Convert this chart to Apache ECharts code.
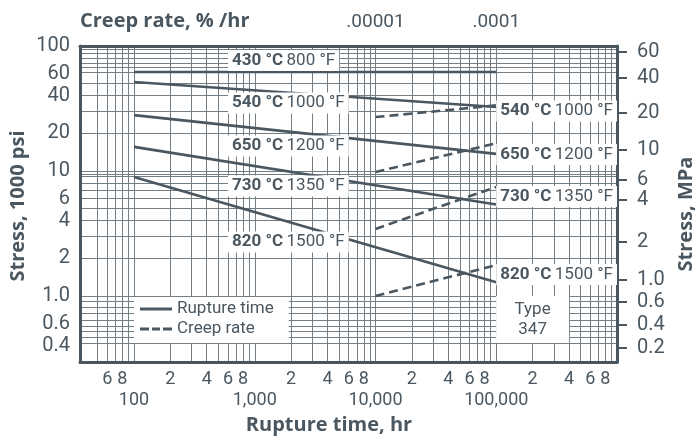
<!DOCTYPE html>
<html>
<head>
<meta charset="utf-8">
<script src="https://cdn.jsdelivr.net/npm/echarts@6/dist/echarts.min.js"></script>
<style>
  html, body { margin: 0; padding: 0; background: #ffffff; }
  #chart { width: 696px; height: 438px; }
</style>
</head>
<body>
<div id="chart"></div>
<script>
// ---- Data: Type 347 stainless, stress vs. rupture time and creep rate ----
// Solid lines: stress (1000 psi) at 100 h and 100,000 h rupture time
const ruptureHours = [100, 100000];
const rupture430 = [62, 62];
const rupture540 = [51.5, 32.5];
const rupture650 = [28, 13.7];
const rupture730 = [15.6, 5.4];
const rupture820 = [8.95, 1.29];

// Dashed lines: stress (1000 psi) at creep rates of 0.00001 and 0.0001 %/hr
const creepRates = [0.00001, 0.0001];
const creep540 = [27, 33.5];
const creep650 = [9.8, 16.7];
const creep730 = [3.44, 7.45];
const creep820 = [1.0, 1.77];

// Temperature captions
const tempC = ['430 °C', '540 °C', '650 °C', '730 °C', '820 °C'];
const tempF = ['800 °F', '1000 °F', '1200 °F', '1350 °F', '1500 °F'];

// Axis ticks
const hourDigitTicks = [60, 80, 200, 400, 600, 800, 2000, 4000, 6000, 8000,
  20000, 40000, 60000, 80000, 200000, 400000, 600000, 800000];
const hourDecadeTicks = [100, 1000, 10000, 100000];
const hourDecadeLabels = ['100', '1,000', '10,000', '100,000'];
const creepTicks = [0.00001, 0.0001];
const creepTickLabels = ['.00001', '.0001'];
const psiTicks = [100, 60, 40, 20, 10, 6, 4, 2, 1, 0.6, 0.4];
const psiTickLabels = ['100', '60', '40', '20', '10', '6', '4', '2', '1.0', '0.6', '0.4'];
// MPa scale labels and the psi-scale stress each one sits at
const mpaTickLabels = ['60', '40', '20', '10', '6', '4', '2', '1.0', '0.6', '0.4', '0.2'];
const mpaTickAtPsi = [89.5, 55.5, 29.1, 14.7, 8.47, 5.86, 2.70, 1.34, 0.895, 0.586, 0.384];

// Ruling of the log paper
const stressRuling = [95, 87, 80, 73, 67, 62, 50, 40, 30, 20,
  10, 9.5, 9, 8, 7, 6, 5, 4, 3, 2,
  1, 0.9, 0.82, 0.73, 0.64, 0.57, 0.52, 0.47, 0.42];
const hourRuling = [];
[10, 100, 1000, 10000, 100000].forEach(function (d) {
  for (let k = 1; k <= 9; k++) {
    if (d * k >= 50) hourRuling.push(d * k);
  }
});

// ---- Styling ----
const ink = '#4a5760';
const rule = '#737e84';
const numFace = "Roboto, 'Liberation Sans', sans-serif";
const heavy = "'Open Sans', 'Noto Sans', sans-serif";

const hourMin = 35.7, hourMax = 1e6;
const stressMin = 0.2965, stressMax = 100;
const hoursPerCreep = 1e9; // creep-rate scale is the rupture-time scale shifted

function pairs(xs, ys) { return xs.map(function (x, i) { return [x, ys[i]]; }); }
function nearestLabel(v, values, labels) {
  let best = 0, bestErr = Infinity;
  values.forEach(function (t, i) {
    const e = Math.abs(Math.log(v / t));
    if (e < bestErr) { bestErr = e; best = i; }
  });
  return labels[best];
}

const captionRich = {
  c: { fontFamily: numFace, fontWeight: 'bold', fontSize: 17, color: ink },
  f: { fontFamily: numFace, fontWeight: 'normal', fontSize: 17, color: ink }
};
function caption(i, coord) {
  return {
    coord: coord,
    label: {
      show: true,
      position: 'right',
      distance: 0,
      backgroundColor: '#ffffff',
      padding: [2, 4, 2, 4],
      formatter: '{c|' + tempC[i] + '} {f|' + tempF[i] + '}',
      rich: captionRich
    }
  };
}

function ruptureSeries(values, captions) {
  return {
    type: 'line', name: 'Rupture time',
    xAxisIndex: 0, yAxisIndex: 0,
    data: pairs(ruptureHours, values),
    symbol: 'none', silent: true, z: 3,
    lineStyle: { color: ink, width: 2.6 },
    itemStyle: { color: ink },
    markPoint: {
      symbol: 'circle', symbolSize: 0, silent: true, z: 8,
      data: captions
    }
  };
}
function creepSeries(values) {
  return {
    type: 'line', name: 'Creep rate',
    xAxisIndex: 2, yAxisIndex: 0,
    data: pairs(creepRates, values),
    symbol: 'none', silent: true, z: 3,
    lineStyle: { color: ink, width: 2.6, type: [9, 5] },
    itemStyle: { color: ink }
  };
}

const chart = echarts.init(document.getElementById('chart'), null, { renderer: 'canvas' });

const series = [
  ruptureSeries(rupture430, [caption(0, [600, 76.6])]),
  ruptureSeries(rupture540, [caption(1, [600, 35.0]), caption(1, [100000, 30.2])]),
  ruptureSeries(rupture650, [caption(2, [600, 15.85]), caption(2, [100000, 13.55])]),
  ruptureSeries(rupture730, [caption(3, [600, 7.59]), caption(3, [100000, 6.25])]),
  ruptureSeries(rupture820, [caption(4, [600, 2.70]), caption(4, [100000, 1.486])]),
  creepSeries(creep540),
  creepSeries(creep650),
  creepSeries(creep730),
  creepSeries(creep820)
];
// Alloy tag in the lower right corner
series[4].markPoint.data.push({
  coord: [200000, 0.648],
  label: {
    show: true, position: 'inside',
    formatter: 'Type\n347',
    backgroundColor: '#ffffff',
    width: 73, height: 47, padding: 0,
    align: 'center', verticalAlign: 'middle',
    lineHeight: 20,
    fontFamily: numFace, fontSize: 17, color: ink
  }
});

chart.setOption({
  animation: false,
  backgroundColor: '#ffffff',
  grid: { left: 80, right: 79, top: 46, bottom: 76, containLabel: false },
  title: {
    text: 'Creep rate, % /hr',
    left: 75, top: 6,
    textStyle: { fontFamily: heavy, fontWeight: 'bold', fontSize: 20, color: ink }
  },
  legend: {
    data: [
      { name: 'Rupture time', icon: 'path://M0,0h32v3h-32z' },
      { name: 'Creep rate', icon: 'path://M0,0h9v3h-9z M12,0h8v3h-8z M23,0h9v3h-9z' }
    ],
    orient: 'vertical',
    left: 134, top: 297,
    backgroundColor: '#ffffff',
    padding: [2, 15, 4, 6],
    itemWidth: 32, itemHeight: 3, itemGap: 0,
    selectedMode: false,
    itemStyle: { color: ink, borderWidth: 0 },
    textStyle: { fontFamily: numFace, fontSize: 17, color: ink, lineHeight: 20 }
  },
  xAxis: [
    {
      type: 'log', position: 'bottom', min: hourMin, max: hourMax,
      axisLine: { show: true, onZero: false, lineStyle: { color: ink, width: 3 } },
      axisTick: { show: false, customValues: hourRuling },
      splitLine: { show: true, lineStyle: { color: rule, width: 1 } },
      axisLabel: {
        customValues: hourDigitTicks, margin: 8,
        formatter: function (v) { return String(Math.round(v)).charAt(0); },
        fontFamily: numFace, fontSize: 18, color: ink
      }
    },
    {
      type: 'log', position: 'bottom', min: hourMin, max: hourMax,
      axisLine: { show: false }, axisTick: { show: false }, splitLine: { show: false },
      axisLabel: {
        customValues: hourDecadeTicks, margin: 29,
        formatter: function (v) { return nearestLabel(v, hourDecadeTicks, hourDecadeLabels); },
        fontFamily: numFace, fontSize: 18, color: ink
      }
    },
    {
      type: 'log', position: 'top',
      min: hourMin / hoursPerCreep, max: hourMax / hoursPerCreep,
      axisLine: { show: true, onZero: false, lineStyle: { color: ink, width: 3 } },
      axisTick: { show: false }, splitLine: { show: false },
      axisLabel: {
        customValues: creepTicks, margin: 14,
        formatter: function (v) { return nearestLabel(v, creepTicks, creepTickLabels); },
        fontFamily: numFace, fontSize: 19, color: ink
      }
    }
  ],
  yAxis: [
    {
      type: 'log', position: 'left', min: stressMin, max: stressMax,
      axisLine: { show: true, onZero: false, lineStyle: { color: ink, width: 3 } },
      axisTick: { show: false, customValues: stressRuling },
      splitLine: { show: true, lineStyle: { color: rule, width: 1 } },
      axisLabel: {
        customValues: psiTicks, margin: 10,
        formatter: function (v) { return nearestLabel(v, psiTicks, psiTickLabels); },
        fontFamily: numFace, fontSize: 20, color: ink
      }
    },
    {
      type: 'log', position: 'right', min: stressMin, max: stressMax,
      axisLine: { show: true, onZero: false, lineStyle: { color: ink, width: 3 } },
      axisTick: { show: true, inside: false, length: 10, customValues: mpaTickAtPsi,
        lineStyle: { color: ink, width: 2 } },
      splitLine: { show: false },
      axisLabel: {
        customValues: mpaTickAtPsi, margin: 20,
        formatter: function (v) { return nearestLabel(v, mpaTickAtPsi, mpaTickLabels); },
        fontFamily: numFace, fontSize: 20, color: ink
      }
    }
  ],
  graphic: [
    {
      type: 'text', x: 18, y: 206, rotation: Math.PI / 2,
      style: { text: 'Stress, 1000 psi', fill: ink, align: 'center', verticalAlign: 'middle',
        textAlign: 'center', textVerticalAlign: 'middle',
        font: 'bold 20px ' + heavy }
    },
    {
      type: 'text', x: 686, y: 214, rotation: Math.PI / 2,
      style: { text: 'Stress, MPa', fill: ink, align: 'center', verticalAlign: 'middle',
        textAlign: 'center', textVerticalAlign: 'middle',
        font: 'bold 20px ' + heavy }
    },
    {
      type: 'text', x: 329, y: 425,
      style: { text: 'Rupture time, hr', fill: ink, align: 'center', verticalAlign: 'middle',
        textAlign: 'center', textVerticalAlign: 'middle',
        font: 'bold 20px ' + heavy }
    }
  ],
  series: series
});
</script>
</body>
</html>
